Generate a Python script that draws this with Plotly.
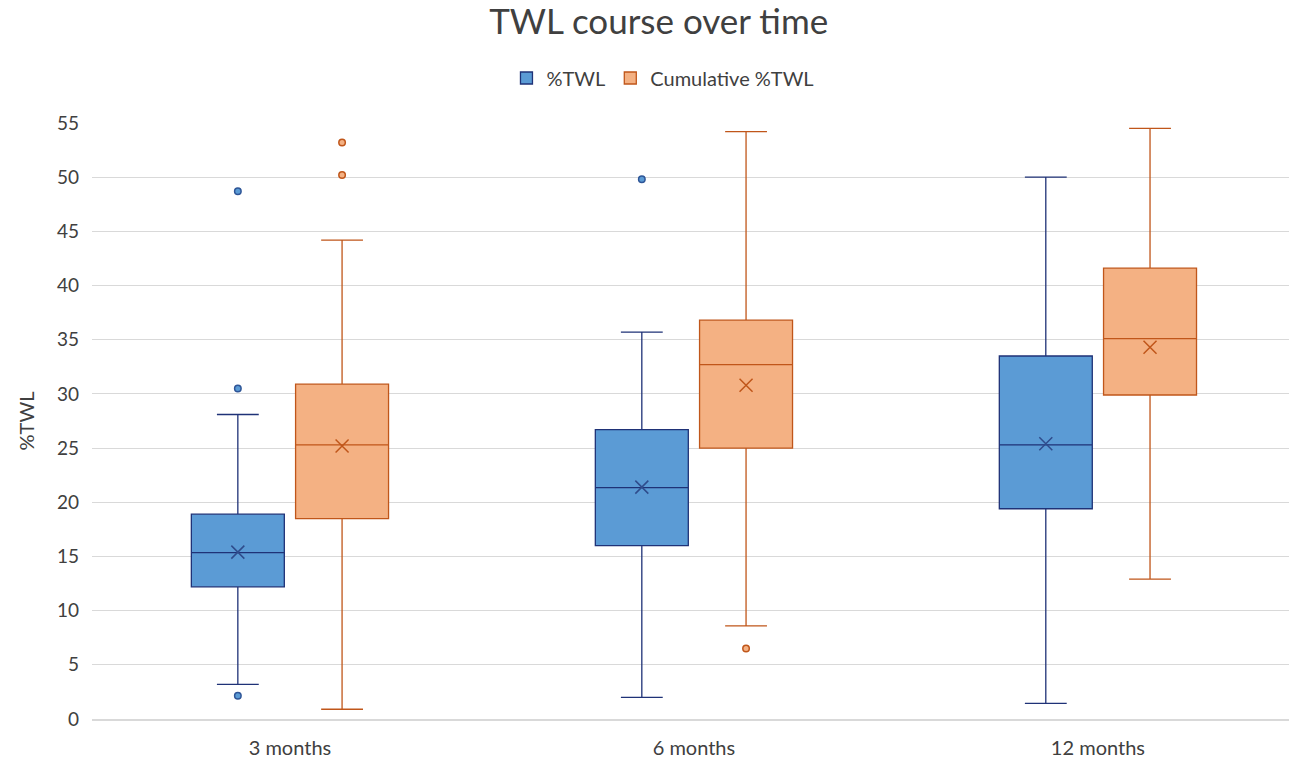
import plotly.graph_objects as go

categories = ["3 months", "6 months", "12 months"]

# %TWL
twl_lower = [3.2, 2.0, 1.45]
twl_q1 = [12.2, 16.0, 19.4]
twl_median = [15.35, 21.35, 25.3]
twl_q3 = [18.9, 26.7, 33.5]
twl_upper = [28.1, 35.7, 50.0]
twl_mean = [15.4, 21.4, 25.4]
twl_out_x = ["3 months", "3 months", "3 months", "6 months"]
twl_out_y = [48.7, 30.5, 2.15, 49.8]

# Cumulative %TWL
cum_lower = [0.9, 8.6, 12.9]
cum_q1 = [18.5, 25.0, 29.9]
cum_median = [25.3, 32.7, 35.1]
cum_q3 = [30.9, 36.8, 41.6]
cum_upper = [44.2, 54.2, 54.5]
cum_mean = [25.2, 30.8, 34.3]
cum_out_x = ["3 months", "3 months", "6 months"]
cum_out_y = [53.2, 50.2, 6.5]

y_ticks = list(range(0, 56, 5))

BLUE_FILL = "#5B9BD5"
BLUE_LINE = "#1F3277"
ORANGE_FILL = "#F4B183"
ORANGE_LINE = "#C0561A"
FONT = "Lato"
GAP = 0.484

fig = go.Figure()

fig.add_trace(go.Box(
    name="%TWL", x=categories, q1=twl_q1, median=twl_median, q3=twl_q3,
    lowerfence=twl_lower, upperfence=twl_upper,
    fillcolor=BLUE_FILL, line=dict(color=BLUE_LINE, width=1.3),
    whiskerwidth=0.45, boxpoints=False, offsetgroup="a", hoverinfo="skip",
))
fig.add_trace(go.Box(
    name="Cumulative %TWL", x=categories, q1=cum_q1, median=cum_median, q3=cum_q3,
    lowerfence=cum_lower, upperfence=cum_upper,
    fillcolor=ORANGE_FILL, line=dict(color=ORANGE_LINE, width=1.3),
    whiskerwidth=0.45, boxpoints=False, offsetgroup="b", hoverinfo="skip",
))

# mean markers
fig.add_trace(go.Scatter(
    x=categories, y=twl_mean, mode="markers", offsetgroup="a", showlegend=False,
    marker=dict(symbol="x-thin", size=13, line=dict(color="#2F4C8C", width=1.5)),
    hoverinfo="skip",
))
fig.add_trace(go.Scatter(
    x=categories, y=cum_mean, mode="markers", offsetgroup="b", showlegend=False,
    marker=dict(symbol="x-thin", size=13, line=dict(color="#C0561A", width=1.5)),
    hoverinfo="skip",
))
# outliers
fig.add_trace(go.Scatter(
    x=twl_out_x, y=twl_out_y, mode="markers", offsetgroup="a", showlegend=False,
    marker=dict(symbol="circle", size=6.5, color=BLUE_FILL, line=dict(color="#2E5597", width=1.5)),
    hoverinfo="skip",
))
fig.add_trace(go.Scatter(
    x=cum_out_x, y=cum_out_y, mode="markers", offsetgroup="b", showlegend=False,
    marker=dict(symbol="circle", size=6.5, color=ORANGE_FILL, line=dict(color="#C0561A", width=1.5)),
    hoverinfo="skip",
))

fig.update_layout(
    width=1289, height=762,
    paper_bgcolor="white", plot_bgcolor="white",
    margin=dict(l=92, r=0, t=123, b=43),
    boxmode="group", boxgap=GAP, boxgroupgap=0.108,
    scattermode="group", scattergap=GAP,
    font=dict(family=FONT, color="#404040", size=19),
    title=dict(text="TWL course over time", x=0.511, xanchor="center", y=0.971, yanchor="middle",
               font=dict(size=35, color="#404040", family=FONT)),
    legend=dict(orientation="h", x=0.477, xanchor="center", y=1.0755, yanchor="middle",
                font=dict(size=20, color="#404040"), traceorder="normal", itemwidth=30),
    showlegend=True,
)
fig.update_xaxes(
    type="category", categoryorder="array", categoryarray=categories,
    range=[-0.49, 2.473],
    showgrid=False, showline=True, linecolor="#D9D9D9", linewidth=1.5,
    ticks="", ticklabelstandoff=10, tickfont=dict(size=20, color="#404040"), zeroline=False,
)
fig.update_yaxes(
    range=[0, 55], tickmode="array", tickvals=y_ticks,
    showgrid=True, gridcolor="#D9D9D9", gridwidth=1.3, zeroline=False, showline=False,
    ticks="", ticklabelstandoff=12, tickfont=dict(size=19, color="#404040"),
    title=dict(text="%TWL", font=dict(size=20, color="#404040"), standoff=16),
)

fig.write_html("out.html", config={"displayModeBar": False},
               post_script="document.body.style.margin='0';")
